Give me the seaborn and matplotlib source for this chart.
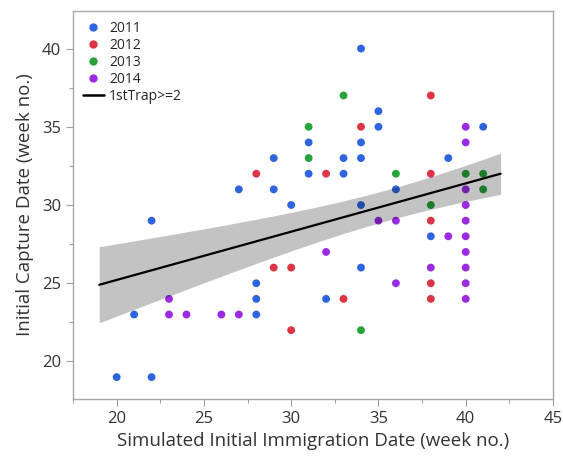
import numpy as np
import pandas as pd
import matplotlib
matplotlib.use("Agg")
import matplotlib.pyplot as plt
import seaborn as sns
from matplotlib.lines import Line2D
from matplotlib.ticker import MultipleLocator

# ---- data ----
x_2011 = [20, 22, 21, 22, 27, 28, 28, 28, 29, 29, 30, 31, 31, 32, 33, 33, 34, 34, 34, 34, 34, 35, 35, 36, 38, 39, 41]
y_2011 = [19, 19, 23, 29, 31, 23, 24, 25, 33, 31, 30, 34, 32, 24, 33, 32, 40, 34, 33, 30, 26, 36, 35, 31, 28, 33, 35]
x_2012 = [28, 29, 30, 30, 32, 33, 34, 38, 38, 38, 38, 38]
y_2012 = [32, 26, 26, 22, 32, 24, 35, 37, 32, 29, 25, 24]
x_2013 = [31, 31, 33, 34, 36, 38, 40, 41, 41]
y_2013 = [35, 33, 37, 22, 32, 30, 32, 32, 31]
x_2014 = [23, 23, 24, 26, 27, 32, 35, 36, 36, 38, 39, 40, 40, 40, 40, 40, 40, 40, 40, 40, 40]
y_2014 = [24, 23, 23, 23, 23, 27, 29, 29, 25, 26, 28, 35, 34, 31, 30, 29, 28, 27, 26, 25, 24]
years = ["2011", "2012", "2013", "2014"]

# fitted line "1stTrap>=2" and its confidence band
fit_label = "1stTrap>=2"
fit_x = [19, 42]
fit_y = [24.9, 32.0]
band_x = [19, 25, 30, 36, 42]
band_half = [2.44, 1.71, 1.22, 1.04, 1.30]

colors = {"2011": "#2f64e0", "2012": "#dc3545", "2013": "#27a33a", "2014": "#9a2be2"}

frames = []
for yr, xs, ys in zip(years, [x_2011, x_2012, x_2013, x_2014], [y_2011, y_2012, y_2013, y_2014]):
    frames.append(pd.DataFrame({"x": xs, "y": ys, "year": yr}))
df = pd.concat(frames, ignore_index=True)

sns.set_theme(style="white")
plt.rcParams["font.family"] = ["Open Sans", "DejaVu Sans"]

fig = plt.figure(figsize=(5.63, 4.59), dpi=100)
ax = fig.add_axes([0.1297, 0.1307, 0.8525, 0.8453])

sns.scatterplot(data=df, x="x", y="y", hue="year", palette=colors, s=32,
                edgecolor="none", ax=ax, zorder=2, legend=False)

# smooth band through the read half-widths (quadratic in squared width), drawn translucent over the points
xg = np.linspace(fit_x[0], fit_x[1], 200)
yg = np.interp(xg, fit_x, fit_y)
coef = np.polyfit(band_x, np.square(band_half), 2)
hw = np.sqrt(np.clip(np.polyval(coef, xg), 0, None))
ax.fill_between(xg, yg - hw, yg + hw, color="black", alpha=0.235, lw=0, zorder=3)
sns.lineplot(x=fit_x, y=fit_y, ax=ax, color="black", lw=1.6, zorder=4)

ax.set_xlim(17.5, 45)
ax.set_ylim(17.6, 42.4)
ax.xaxis.set_major_locator(MultipleLocator(5))
ax.xaxis.set_minor_locator(MultipleLocator(2.5))
ax.yaxis.set_major_locator(MultipleLocator(5))
ax.yaxis.set_minor_locator(MultipleLocator(2.5))
ax.tick_params(which="major", direction="out", length=5, width=0.8, color="#a0a0a0",
               labelsize=12, labelcolor="#333333", bottom=True, left=True)
ax.tick_params(which="minor", direction="out", length=3, width=0.8, color="#a0a0a0",
               bottom=True, left=True)
for sp in ax.spines.values():
    sp.set_color("#a8a8a8")
    sp.set_linewidth(1.0)
ax.set_xlabel("Simulated Initial Immigration Date (week no.)", fontsize=13.5, color="#333333", labelpad=4)
ax.set_ylabel("Initial Capture Date (week no.)", fontsize=13.5, color="#333333", labelpad=6)

handles = [Line2D([], [], marker="o", ls="none", color=colors[yr], markersize=5) for yr in years]
handles.append(Line2D([], [], color="black", lw=1.8))
leg = ax.legend(handles, years + [fit_label], loc="upper left", frameon=False, fontsize=10,
                handlelength=1.5, handletextpad=0.4, labelspacing=0.15, borderaxespad=0.3)

fig.savefig("out.png", dpi=100)
